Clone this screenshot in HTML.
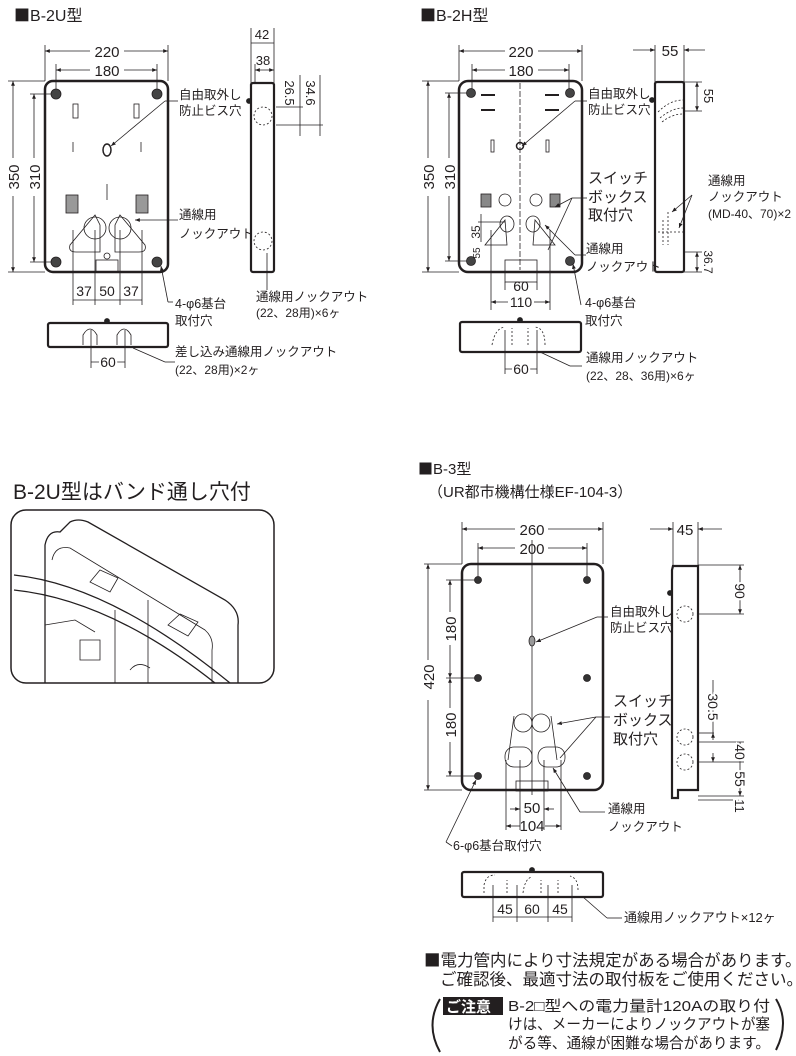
<!DOCTYPE html>
<html><head><meta charset="utf-8"><style>
html,body{margin:0;padding:0;background:#fff;}
svg{display:block;}
text{font-family:"Liberation Sans","Noto Sans CJK JP",sans-serif;fill:#231f20;}
.sq{font-family:"Noto Sans CJK JP",sans-serif;}
.t{font-size:12.5px;}
.d{font-size:15px;}
.w{paint-order:stroke;stroke:#fff;stroke-width:4px;}
</style></head><body>
<svg width="796" height="1056" viewBox="0 0 796 1056" xmlns="http://www.w3.org/2000/svg">
<defs>
<marker id="a" viewBox="0 0 10 10" refX="10" refY="5" markerWidth="6" markerHeight="6" orient="auto-start-reverse"><path d="M0,1 L10,5 L0,9 z" fill="#231f20"/></marker>
</defs>
<g stroke="#231f20" fill="none" stroke-width="0.8">

<!-- ============ B-2U ============ -->
<rect x="45" y="81" width="123" height="191" rx="8" stroke-width="2.5"/>
<line x1="45" y1="81" x2="45" y2="45"/><line x1="168" y1="81" x2="168" y2="45"/>
<line x1="45" y1="51" x2="90" y2="51" marker-start="url(#a)"/><line x1="124" y1="51" x2="168" y2="51" marker-end="url(#a)"/>
<line x1="56" y1="94" x2="56" y2="64"/><line x1="157" y1="94" x2="157" y2="64"/>
<line x1="56" y1="70" x2="90" y2="70" marker-start="url(#a)"/><line x1="124" y1="70" x2="157" y2="70" marker-end="url(#a)"/>
<line x1="8" y1="81" x2="45" y2="81"/><line x1="8" y1="272" x2="45" y2="272"/>
<line x1="13" y1="81" x2="13" y2="158" marker-start="url(#a)"/><line x1="13" y1="196" x2="13" y2="272" marker-end="url(#a)"/>
<line x1="30" y1="94" x2="56" y2="94"/><line x1="30" y1="262" x2="56" y2="262"/>
<line x1="34" y1="94" x2="34" y2="158" marker-start="url(#a)"/><line x1="34" y1="196" x2="34" y2="262" marker-end="url(#a)"/>
<g fill="#444"><circle cx="56" cy="94" r="5"/><circle cx="157" cy="94" r="5"/><circle cx="56" cy="262" r="5"/><circle cx="157" cy="262" r="5"/></g>
<rect x="73" y="104" width="5" height="14"/><rect x="134" y="104" width="5" height="14"/>
<line x1="73" y1="142" x2="73" y2="152"/><line x1="141" y1="142" x2="141" y2="152"/>
<line x1="107" y1="184" x2="107" y2="200"/>
<ellipse cx="107" cy="150" rx="4" ry="6" stroke-width="1.5"/>
<rect x="66" y="195" width="12" height="18" fill="#999"/><rect x="136" y="195" width="12" height="18" fill="#999"/>
<path d="M95,215 L70,245 Q68,252 76,252 L100,252 L100,225 Z"/><circle cx="95" cy="228" r="11"/>
<path d="M120,215 L145,245 Q147,252 139,252 L115,252 L115,225 Z"/><circle cx="120" cy="228" r="11"/>
<circle cx="107" cy="256" r="3"/><rect x="96" y="260" width="22" height="12"/>
<line x1="95" y1="230" x2="95" y2="305"/><line x1="120" y1="230" x2="120" y2="305"/>
<line x1="73" y1="230" x2="73" y2="305"/><line x1="142" y1="230" x2="142" y2="305"/>
<line x1="73" y1="300" x2="142" y2="300"/>
<line x1="111" y1="146" x2="165" y2="101" marker-start="url(#a)"/><line x1="165" y1="101" x2="178" y2="101"/>
<line x1="135" y1="220" x2="178" y2="220" marker-start="url(#a)"/>
<line x1="161" y1="266" x2="168" y2="302" marker-start="url(#a)"/><line x1="168" y1="302" x2="173" y2="302"/>
<!-- side -->
<rect x="251" y="83" width="23" height="189" rx="2" stroke-width="2.2"/>
<circle cx="249" cy="101" r="2.5" fill="#222"/>
<line x1="251" y1="83" x2="251" y2="28"/><line x1="274" y1="83" x2="274" y2="28"/><line x1="255" y1="64" x2="255" y2="83"/>
<line x1="251" y1="43" x2="274" y2="43"/><line x1="255" y1="70" x2="274" y2="70" marker-start="url(#a)" marker-end="url(#a)"/>
<circle cx="263" cy="116" r="9" stroke-dasharray="2,2"/><circle cx="263" cy="241" r="9" stroke-dasharray="2,2"/>
<line x1="276" y1="107" x2="303" y2="107"/><line x1="276" y1="125" x2="323" y2="125"/>
<line x1="300" y1="75" x2="300" y2="136"/><line x1="320" y1="75" x2="320" y2="136"/>
<line x1="267" y1="253" x2="267" y2="290"/>
<!-- bottom -->
<rect x="48" y="323" width="120" height="24" rx="2" stroke-width="2.2"/>
<circle cx="107" cy="321" r="2.5" fill="#222"/>
<path d="M83,345 L83,335 Q90,323 97,335 L97,345"/><path d="M117,345 L117,335 Q124,323 131,335 L131,345"/>
<line x1="91" y1="330" x2="91" y2="368"/><line x1="125" y1="330" x2="125" y2="368"/>
<line x1="91" y1="362" x2="125" y2="362"/>
<line x1="133" y1="348" x2="165" y2="362"/><line x1="165" y1="362" x2="175" y2="362"/>

<!-- ============ B-2H ============ -->
<rect x="459" y="81" width="123" height="191" rx="9" stroke-width="2.5"/>
<line x1="459" y1="81" x2="459" y2="45"/><line x1="582" y1="81" x2="582" y2="45"/>
<line x1="459" y1="51" x2="505" y2="51" marker-start="url(#a)"/><line x1="538" y1="51" x2="582" y2="51" marker-end="url(#a)"/>
<line x1="472" y1="70" x2="505" y2="70" marker-start="url(#a)"/><line x1="538" y1="70" x2="569" y2="70" marker-end="url(#a)"/>
<line x1="472" y1="92" x2="472" y2="64"/><line x1="569" y1="92" x2="569" y2="64"/>
<line x1="422" y1="81" x2="459" y2="81"/><line x1="422" y1="272" x2="459" y2="272"/>
<line x1="428" y1="81" x2="428" y2="158" marker-start="url(#a)"/><line x1="428" y1="196" x2="428" y2="272" marker-end="url(#a)"/>
<line x1="445" y1="93" x2="472" y2="93"/><line x1="445" y1="261" x2="472" y2="261"/>
<line x1="449" y1="93" x2="449" y2="158" marker-start="url(#a)"/><line x1="449" y1="196" x2="449" y2="261" marker-end="url(#a)"/>
<g fill="#444"><circle cx="471" cy="93" r="4.5"/><circle cx="570" cy="93" r="4.5"/><circle cx="471" cy="261" r="4.5"/><circle cx="570" cy="261" r="4.5"/></g>
<line x1="520" y1="83" x2="520" y2="270" stroke-dasharray="6,2"/>
<line x1="481" y1="95" x2="495" y2="95" stroke-width="2"/><line x1="545" y1="95" x2="559" y2="95" stroke-width="2"/>
<line x1="481" y1="110" x2="495" y2="110" stroke-width="2"/><line x1="545" y1="110" x2="559" y2="110" stroke-width="2"/>
<rect x="491" y="140" width="3" height="12"/><rect x="546" y="140" width="3" height="12"/>
<circle cx="520" cy="146" r="3.5" stroke-width="1.5"/>
<rect x="481" y="194" width="10" height="13" fill="#888"/><rect x="550" y="194" width="10" height="13" fill="#888"/>
<circle cx="505" cy="200" r="6"/><circle cx="536" cy="200" r="6"/>
<path d="M505,220 L485,245 L507,245 Z"/><ellipse cx="507" cy="224" rx="7" ry="8"/>
<path d="M535,220 L555,245 L533,245 Z"/><ellipse cx="533" cy="224" rx="7" ry="8"/>
<rect x="505" y="260" width="32" height="22"/>
<line x1="491" y1="230" x2="491" y2="310"/><line x1="550" y1="230" x2="550" y2="310"/>
<line x1="505" y1="282" x2="505" y2="290"/><line x1="537" y1="282" x2="537" y2="290"/>
<line x1="491" y1="302" x2="508" y2="302" marker-start="url(#a)"/><line x1="534" y1="302" x2="550" y2="302" marker-end="url(#a)"/>
<line x1="478" y1="222" x2="505" y2="222"/><line x1="481" y1="214" x2="481" y2="242"/>
<line x1="522" y1="146" x2="575" y2="101" marker-start="url(#a)"/><line x1="575" y1="101" x2="587" y2="101"/>
<line x1="555" y1="207" x2="572" y2="198" marker-start="url(#a)"/><line x1="572" y1="198" x2="587" y2="198"/>
<line x1="548" y1="250" x2="572" y2="198"/>
<line x1="545" y1="225" x2="575" y2="255" marker-start="url(#a)"/><line x1="575" y1="255" x2="586" y2="255"/>
<line x1="573" y1="264" x2="581" y2="305" marker-start="url(#a)"/>
<!-- side -->
<rect x="655" y="82" width="29" height="190" rx="2" stroke-width="2.2"/>
<circle cx="652" cy="100" r="2.5" fill="#222"/>
<line x1="655" y1="82" x2="655" y2="45"/><line x1="684" y1="82" x2="684" y2="45"/>
<line x1="633" y1="50" x2="655" y2="50" marker-end="url(#a)"/><line x1="705" y1="50" x2="684" y2="50" marker-end="url(#a)"/>
<line x1="684" y1="82" x2="702" y2="82"/><line x1="684" y1="111" x2="702" y2="111"/>
<line x1="697" y1="82" x2="697" y2="111" marker-start="url(#a)" marker-end="url(#a)"/>
<path d="M658,112 Q670,100 683,100 M660,118 Q672,108 683,108 M662,122 Q672,114 683,114" stroke-dasharray="2,2"/>
<path d="M663,220 L663,245 M668,212 L668,245 M658,232 L684,232" stroke-dasharray="2,2"/>
<line x1="684" y1="252" x2="702" y2="252"/><line x1="684" y1="272" x2="702" y2="272"/>
<line x1="697" y1="252" x2="697" y2="272" marker-start="url(#a)" marker-end="url(#a)"/>
<line x1="672" y1="212" x2="692" y2="195" marker-start="url(#a)"/><line x1="679" y1="228" x2="692" y2="195" marker-start="url(#a)"/>
<!-- bottom -->
<rect x="460" y="322" width="121" height="30" rx="2" stroke-width="2.2"/>
<circle cx="520" cy="320" r="2.5" fill="#222"/>
<path d="M492,345 Q495,328 505,327 M512,345 L512,328 M528,345 L528,328 M545,345 Q545,328 535,327" stroke-dasharray="2,2"/>
<line x1="505" y1="330" x2="505" y2="374"/><line x1="537" y1="330" x2="537" y2="374"/>
<line x1="505" y1="369" x2="537" y2="369"/>
<line x1="540" y1="352" x2="570" y2="366"/><line x1="570" y1="366" x2="582" y2="366"/>

<!-- ============ photo box ============ -->
<rect x="11" y="510" width="263" height="173" rx="15" stroke-width="1.5"/>
<path d="M45,683 L45,545 Q48,530 60,532 L70,522 Q78,518 88,522 L225,600 Q240,610 238,625 L238,683" stroke-width="1.3"/>
<path d="M52,560 Q55,545 70,548 L205,630 Q214,638 212,650 L212,683"/>
<path d="M14,575 Q110,585 230,683" stroke-width="1.3"/><path d="M14,590 Q110,600 215,683" stroke-width="1.3"/>
<path d="M90,582 L100,570 L118,578 L110,592 Z M168,625 L180,614 L198,622 L188,636 Z"/>
<path d="M45,625 L75,620 L95,632 M80,640 L100,640 L100,660 L80,660 Z M115,610 L115,683 M148,600 L148,683 M130,670 Q138,660 150,668"/>

<!-- ============ B-3 ============ -->
<rect x="462" y="564" width="141" height="226" rx="9" stroke-width="2.5"/>
<line x1="462" y1="564" x2="462" y2="522"/><line x1="603" y1="564" x2="603" y2="522"/>
<line x1="462" y1="529" x2="515" y2="529" marker-start="url(#a)"/><line x1="548" y1="529" x2="603" y2="529" marker-end="url(#a)"/>
<line x1="478" y1="580" x2="478" y2="543"/><line x1="587" y1="580" x2="587" y2="543"/>
<line x1="478" y1="548" x2="515" y2="548" marker-start="url(#a)"/><line x1="548" y1="548" x2="587" y2="548" marker-end="url(#a)"/>
<line x1="424" y1="564" x2="462" y2="564"/><line x1="424" y1="790" x2="462" y2="790"/>
<line x1="428" y1="564" x2="428" y2="660" marker-start="url(#a)"/><line x1="428" y1="700" x2="428" y2="790" marker-end="url(#a)"/>
<line x1="446" y1="580" x2="478" y2="580"/><line x1="446" y1="678" x2="478" y2="678"/><line x1="446" y1="776" x2="478" y2="776"/>
<line x1="450" y1="580" x2="450" y2="612" marker-start="url(#a)"/><line x1="450" y1="645" x2="450" y2="678" marker-end="url(#a)"/>
<line x1="450" y1="678" x2="450" y2="708" marker-start="url(#a)"/><line x1="450" y1="742" x2="450" y2="776" marker-end="url(#a)"/>
<g fill="#333"><circle cx="478" cy="580" r="3.5"/><circle cx="587" cy="580" r="3.5"/><circle cx="478" cy="678" r="3.5"/><circle cx="587" cy="678" r="3.5"/><circle cx="478" cy="776" r="3.5"/><circle cx="587" cy="776" r="3.5"/></g>
<line x1="532" y1="540" x2="532" y2="795"/>
<ellipse cx="532" cy="641" rx="3" ry="5" fill="#999"/>
<circle cx="523" cy="723" r="9"/><circle cx="541" cy="723" r="9"/>
<rect x="505" y="747" width="27" height="20" rx="9"/><rect x="538" y="747" width="27" height="20" rx="9"/>
<path d="M514,716 L508,760 M551,716 L557,760"/>
<rect x="516" y="781" width="32" height="10"/>
<line x1="520" y1="760" x2="520" y2="830"/><line x1="544" y1="760" x2="544" y2="830"/>
<line x1="506" y1="760" x2="506" y2="830"/><line x1="561" y1="760" x2="561" y2="830"/>
<line x1="510" y1="809" x2="520" y2="809" marker-end="url(#a)"/><line x1="554" y1="809" x2="544" y2="809" marker-end="url(#a)"/>
<line x1="506" y1="826" x2="520" y2="826" marker-start="url(#a)"/><line x1="545" y1="826" x2="561" y2="826" marker-end="url(#a)"/>
<line x1="536" y1="642" x2="597" y2="617" marker-start="url(#a)"/><line x1="597" y1="617" x2="608" y2="617"/>
<line x1="557" y1="724" x2="596" y2="717" marker-start="url(#a)"/><line x1="596" y1="717" x2="610" y2="717"/>
<line x1="560" y1="758" x2="596" y2="717"/>
<line x1="553" y1="768" x2="580" y2="812" marker-start="url(#a)"/><line x1="580" y1="812" x2="605" y2="812"/>
<line x1="476" y1="780" x2="446" y2="842" marker-start="url(#a)"/><line x1="446" y1="842" x2="452" y2="846"/>
<!-- side -->
<path d="M673,566 L698,566 L698,790 L678,790 L678,798 L672,798 L672,570 Z" stroke-width="2.2"/>
<circle cx="670" cy="593" r="2.5" fill="#222"/>
<line x1="673" y1="566" x2="673" y2="522"/><line x1="698" y1="566" x2="698" y2="522"/>
<line x1="650" y1="529" x2="673" y2="529" marker-end="url(#a)"/><line x1="722" y1="529" x2="698" y2="529" marker-end="url(#a)"/>
<line x1="698" y1="565" x2="744" y2="565"/><line x1="698" y1="614" x2="744" y2="614"/>
<line x1="740" y1="565" x2="740" y2="614" marker-start="url(#a)" marker-end="url(#a)"/>
<circle cx="685" cy="614" r="8" stroke-dasharray="2,2"/>
<circle cx="685" cy="737" r="8" stroke-dasharray="2,2"/><circle cx="685" cy="762" r="8" stroke-dasharray="2,2"/>
<line x1="698" y1="733" x2="714" y2="733"/><line x1="713" y1="740" x2="713" y2="733" marker-end="url(#a)"/><line x1="713" y1="680" x2="713" y2="733"/>
<line x1="713" y1="753" x2="713" y2="762" marker-end="url(#a)"/>
<line x1="698" y1="742" x2="744" y2="742"/><line x1="698" y1="762" x2="744" y2="762"/><line x1="698" y1="796" x2="744" y2="796"/><line x1="698" y1="800" x2="744" y2="800"/>
<line x1="740" y1="742" x2="740" y2="796" marker-start="url(#a)" marker-end="url(#a)"/>
<line x1="740" y1="800" x2="740" y2="812" marker-start="url(#a)"/>
<!-- bottom -->
<rect x="462" y="872" width="141" height="25" rx="2" stroke-width="2.2"/>
<circle cx="532" cy="870" r="2.5" fill="#222"/>
<path d="M484,893 L484,885 Q486,875 495,875 M507,893 L507,880 M523,893 Q525,878 532,877 M541,893 L541,880 M558,893 L558,880 M578,890 Q578,878 570,876" stroke-dasharray="2,2"/>
<line x1="493" y1="885" x2="493" y2="922"/><line x1="517" y1="885" x2="517" y2="922"/><line x1="548" y1="885" x2="548" y2="922"/><line x1="572" y1="885" x2="572" y2="922"/>
<line x1="493" y1="917" x2="572" y2="917"/>
<line x1="583" y1="897" x2="607" y2="918"/><line x1="607" y1="918" x2="622" y2="918"/>
<!-- parens -->
<path d="M440,999 Q425,1025 440,1052" stroke-width="2"/>
<path d="M776,999 Q790,1022 776,1050" stroke-width="2"/>
</g>

<!-- ===== TEXT ===== -->
<text x="14" y="21" font-size="16"><tspan class="sq">■</tspan>B-2U型</text>
<text x="107" y="57" class="d" text-anchor="middle">220</text>
<text x="107" y="76" class="d" text-anchor="middle">180</text>
<text transform="translate(19,177) rotate(-90)" class="d" text-anchor="middle">350</text>
<text transform="translate(40,177) rotate(-90)" class="d" text-anchor="middle">310</text>
<text x="262" y="39" font-size="13" text-anchor="middle">42</text>
<text x="263" y="65" font-size="13" text-anchor="middle">38</text>
<text transform="translate(285,93) rotate(90)" font-size="13" text-anchor="middle">26.5</text>
<text transform="translate(306,93) rotate(90)" font-size="13" text-anchor="middle">34.6</text>
<text x="179" y="99" class="t">自由取外し</text>
<text x="179" y="115" class="t">防止ビス穴</text>
<text x="179" y="219" class="t">通線用</text>
<text x="179" y="238" class="t">ノックアウト</text>
<text x="84" y="296" font-size="14" text-anchor="middle">37</text>
<text x="107" y="296" font-size="14" text-anchor="middle">50</text>
<text x="131" y="296" font-size="14" text-anchor="middle">37</text>
<text x="175" y="308" class="t">4-φ6基台</text>
<text x="175" y="325" class="t">取付穴</text>
<text x="256" y="301" class="t">通線用ノックアウト</text>
<text x="256" y="317" font-size="12">(22、28用)×6ヶ</text>
<text x="108" y="367" font-size="14" text-anchor="middle" class="w">60</text>
<text x="175" y="356" class="t">差し込み通線用ノックアウト</text>
<text x="175" y="374" font-size="12">(22、28用)×2ヶ</text>

<text x="420" y="21" font-size="16"><tspan class="sq">■</tspan>B-2H型</text>
<text x="521" y="57" class="d" text-anchor="middle">220</text>
<text x="521" y="76" class="d" text-anchor="middle">180</text>
<text transform="translate(434,177) rotate(-90)" class="d" text-anchor="middle">350</text>
<text transform="translate(455,177) rotate(-90)" class="d" text-anchor="middle">310</text>
<text x="670" y="56" class="d" text-anchor="middle">55</text>
<text transform="translate(704,96) rotate(90)" font-size="13" text-anchor="middle">55</text>
<text transform="translate(704,262) rotate(90)" font-size="12" text-anchor="middle">36.7</text>
<text transform="translate(480,232) rotate(-90)" font-size="12" text-anchor="middle">35</text>
<text transform="translate(480,253) rotate(-90)" font-size="10" text-anchor="middle">55</text>
<text x="588" y="98" class="t">自由取外し</text>
<text x="588" y="114" class="t">防止ビス穴</text>
<text x="588" y="183" font-size="15">スイッチ</text>
<text x="588" y="202" font-size="15">ボックス</text>
<text x="588" y="220" font-size="15">取付穴</text>
<text x="586" y="253" class="t">通線用</text>
<text x="586" y="271" class="t">ノックアウト</text>
<text x="521" y="291" font-size="14" text-anchor="middle">60</text>
<text x="521" y="307" font-size="14" text-anchor="middle">110</text>
<text x="585" y="307" class="t">4-φ6基台</text>
<text x="585" y="325" class="t">取付穴</text>
<text x="708" y="185" class="t">通線用</text>
<text x="708" y="201" class="t">ノックアウト</text>
<text x="708" y="218" font-size="12">(MD-40、70)×2</text>
<text x="521" y="374" font-size="14" text-anchor="middle" class="w">60</text>
<text x="586" y="362" class="t">通線用ノックアウト</text>
<text x="586" y="380" font-size="12">(22、28、36用)×6ヶ</text>

<text x="13" y="499" font-size="21">B-2U型はバンド通し穴付</text>

<text x="418" y="474" font-size="15"><tspan class="sq">■</tspan>B-3型</text>
<text x="428" y="497" font-size="15">（UR都市機構仕様EF-104-3）</text>
<text x="532" y="535" class="d" text-anchor="middle">260</text>
<text x="532" y="554" class="d" text-anchor="middle">200</text>
<text transform="translate(434,677) rotate(-90)" class="d" text-anchor="middle">420</text>
<text transform="translate(456,629) rotate(-90)" class="d" text-anchor="middle">180</text>
<text transform="translate(456,725) rotate(-90)" class="d" text-anchor="middle">180</text>
<text x="685" y="535" class="d" text-anchor="middle">45</text>
<text transform="translate(735,591) rotate(90)" font-size="14" text-anchor="middle" class="w">90</text>
<text transform="translate(708,707) rotate(90)" font-size="14" text-anchor="middle" class="w">30.5</text>
<text transform="translate(735,752) rotate(90)" font-size="14" text-anchor="middle" class="w">40</text>
<text transform="translate(735,779) rotate(90)" font-size="14" text-anchor="middle" class="w">55</text>
<text transform="translate(735,806) rotate(90)" font-size="13" text-anchor="middle" class="w">11</text>
<text x="610" y="616" class="t">自由取外し</text>
<text x="610" y="632" class="t">防止ビス穴</text>
<text x="613" y="706" font-size="15">スイッチ</text>
<text x="613" y="725" font-size="15">ボックス</text>
<text x="613" y="744" font-size="15">取付穴</text>
<text x="608" y="813" class="t">通線用</text>
<text x="608" y="831" class="t">ノックアウト</text>
<text x="532" y="813" font-size="15" text-anchor="middle">50</text>
<text x="532" y="831" font-size="15" text-anchor="middle">104</text>
<text x="453" y="850" class="t">6-φ6基台取付穴</text>
<text x="505" y="914" font-size="14" text-anchor="middle">45</text>
<text x="532" y="914" font-size="14" text-anchor="middle">60</text>
<text x="560" y="914" font-size="14" text-anchor="middle">45</text>
<text x="624" y="922" font-size="13">通線用ノックアウト×12ヶ</text>

<text x="424" y="966" font-size="16.5"><tspan class="sq">■</tspan>電力管内により寸法規定がある場合があります。</text>
<text x="440" y="985" font-size="16.5">ご確認後、最適寸法の取付板をご使用ください。</text>
<rect x="443" y="997" width="60" height="18" fill="#231f20"/>
<text x="446" y="1012" font-size="15" font-weight="bold" style="fill:#fff">ご注意</text>
<text x="508" y="1011" font-size="15" textLength="262" lengthAdjust="spacingAndGlyphs">B-2□型への電力量計120Aの取り付</text>
<text x="508" y="1029" font-size="15" textLength="262" lengthAdjust="spacingAndGlyphs">けは、メーカーによりノックアウトが塞</text>
<text x="508" y="1048" font-size="15" textLength="262" lengthAdjust="spacingAndGlyphs">がる等、通線が困難な場合があります。</text>
</svg>
</body></html>
